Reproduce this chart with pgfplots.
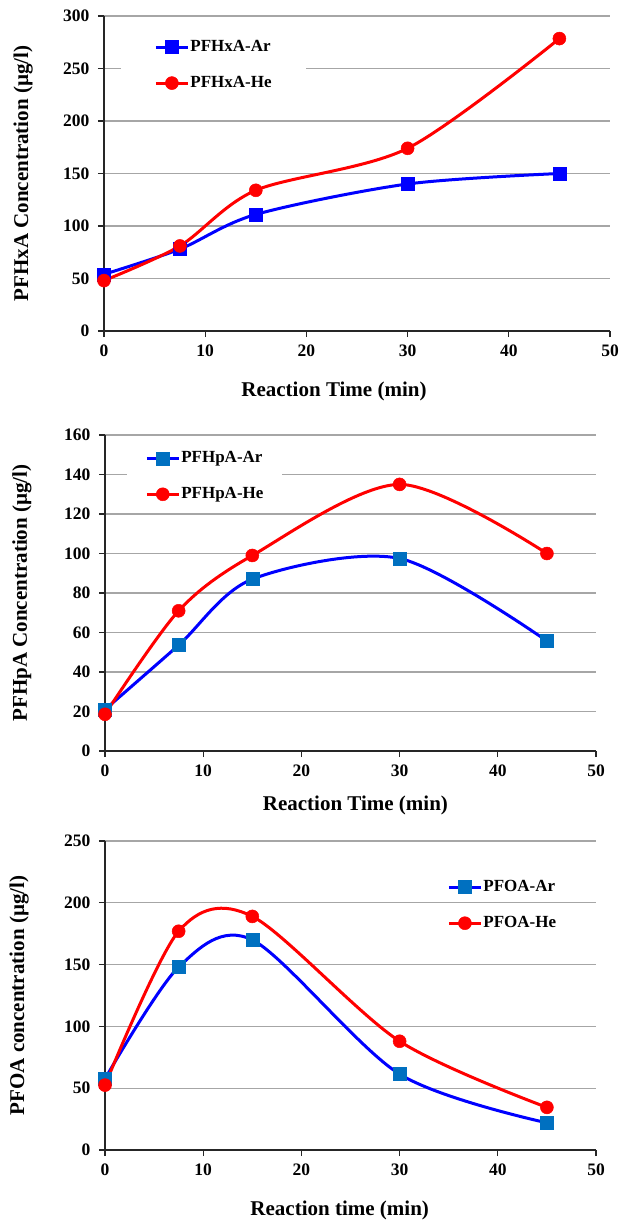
\documentclass[border=0pt]{standalone}
\usepackage{fontspec}
\setmainfont{Liberation Serif}
\usepackage{pgfplots}
\pgfplotsset{compat=1.18}

\definecolor{arline}{HTML}{0000FF}
\definecolor{armark}{HTML}{0070C0}
\definecolor{heline}{HTML}{FF0000}
\definecolor{gridc}{HTML}{A6A6A6}

\newcommand{\labfont}{\bfseries\fontsize{21}{24}\selectfont}
\newcommand{\tickfont}{\bfseries\fontsize{17.5}{19}\selectfont}

\pgfplotsset{
  panel/.style={
    scale only axis,
    clip=false,
    axis x line*=bottom,
    axis y line*=left,
    axis line style={-, black!85, line width=1.2pt},
    tick align=outside,
    major tick length=6pt,
    tick style={black!85, line width=1.2pt},
    ymajorgrids,
    grid style={gridc, line width=1.3pt},
    xmin=0, xmax=50, xtick={0,10,...,50},
    ymin=0,
    /pgf/number format/assume math mode=true,
    xticklabel style={font=\tickfont, yshift=-4pt},
    yticklabel style={font=\tickfont, xshift=-5pt},
    legend cell align=left,
    legend style={draw=none, inner ysep=4pt, row sep=20pt,
      font=\bfseries\fontsize{17}{19}\selectfont,
      nodes={inner xsep=1pt, inner ysep=0pt, text height=12pt, text depth=4pt}},
    legend image code/.code={\draw[mark repeat=2,mark phase=2,##1] plot coordinates {(0pt,0pt) (16pt,0pt) (32pt,0pt)};},
  },
  arsty/.style={arline, line width=3pt, smooth, mark=square*, mark size=6.5pt, mark options={solid, fill=#1, draw=#1, line width=0.5pt}},
  hesty/.style={heline, line width=3pt, smooth, mark=*, mark size=6.5pt, mark options={solid, fill=heline, draw=heline, line width=0.5pt}},
}

\begin{document}
\begin{tikzpicture}
\useasboundingbox (0pt,0pt) rectangle (620pt,-1220pt);

% panel 1: PFHxA
\begin{axis}[panel,
  at={(104pt,-331pt)}, anchor=south west,
  width=506pt, height=315pt,
  ymax=300, ytick={0,50,...,300},
  xlabel={Reaction Time (min)}, ylabel={PFHxA Concentration (µg/l)},
  xlabel style={at={(axis description cs:0.4545,0)}, anchor=center, yshift=-60pt, font=\labfont},
  ylabel style={at={(axis description cs:-0.160,0.5)}, rotate=0, anchor=center, font=\labfont},
  legend style={at={(axis description cs:0.034,0.94)}, anchor=north west, fill=white, inner xsep=33pt},
]
\addplot[arsty=arline] coordinates {(0,54) (7.5,78) (15,111) (30,140) (45,150)};
\addlegendentry{PFHxA-Ar}
\addplot[hesty] coordinates {(0,48) (7.5,81) (15,134) (30,174) (45,278.5)};
\addlegendentry{PFHxA-He}
\end{axis}

% panel 2: PFHpA
\begin{axis}[panel,
  at={(105pt,-751pt)}, anchor=south west,
  width=491pt, height=316pt,
  ymax=160, ytick={0,20,...,160},
  xlabel={Reaction Time (min)}, ylabel={PFHpA Concentration (µg/l)},
  xlabel style={at={(axis description cs:0.510,0)}, anchor=center, yshift=-54pt, font=\labfont},
  ylabel style={at={(axis description cs:-0.169,0.5)}, rotate=0, anchor=center, font=\labfont},
  legend style={at={(axis description cs:0.045,0.965)}, anchor=north west, fill=white, inner xsep=18pt},
]
\addplot[arsty=armark] coordinates {(0,21) (7.5,53.6) (15,87) (30,97.5) (45,55.7)};
\addlegendentry{PFHpA-Ar}
\addplot[hesty] coordinates {(0,18.6) (7.5,71) (15,99) (30,135) (45,100)};
\addlegendentry{PFHpA-He}
\end{axis}

% panel 3: PFOA
\begin{axis}[panel,
  at={(105pt,-1150pt)}, anchor=south west,
  width=491pt, height=309pt,
  ymax=250, ytick={0,50,...,250},
  xlabel={Reaction time (min)}, ylabel={PFOA concentration (µg/l)},
  xlabel style={at={(axis description cs:0.478,0)}, anchor=center, yshift=-60pt, font=\labfont},
  ylabel style={at={(axis description cs:-0.175,0.5)}, rotate=0, anchor=center, font=\labfont},
  legend style={at={(axis description cs:0.697,0.89)}, anchor=north west, fill=none, inner xsep=0pt},
]
\addplot[arsty=armark] coordinates {(0,57.6) (7.5,148) (15,170) (30,61.4) (45,22)};
\addlegendentry{PFOA-Ar}
\addplot[hesty] coordinates {(0,52.5) (7.5,177) (15,189) (30,88) (45,34.5)};
\addlegendentry{PFOA-He}
\end{axis}
\end{tikzpicture}
\end{document}
